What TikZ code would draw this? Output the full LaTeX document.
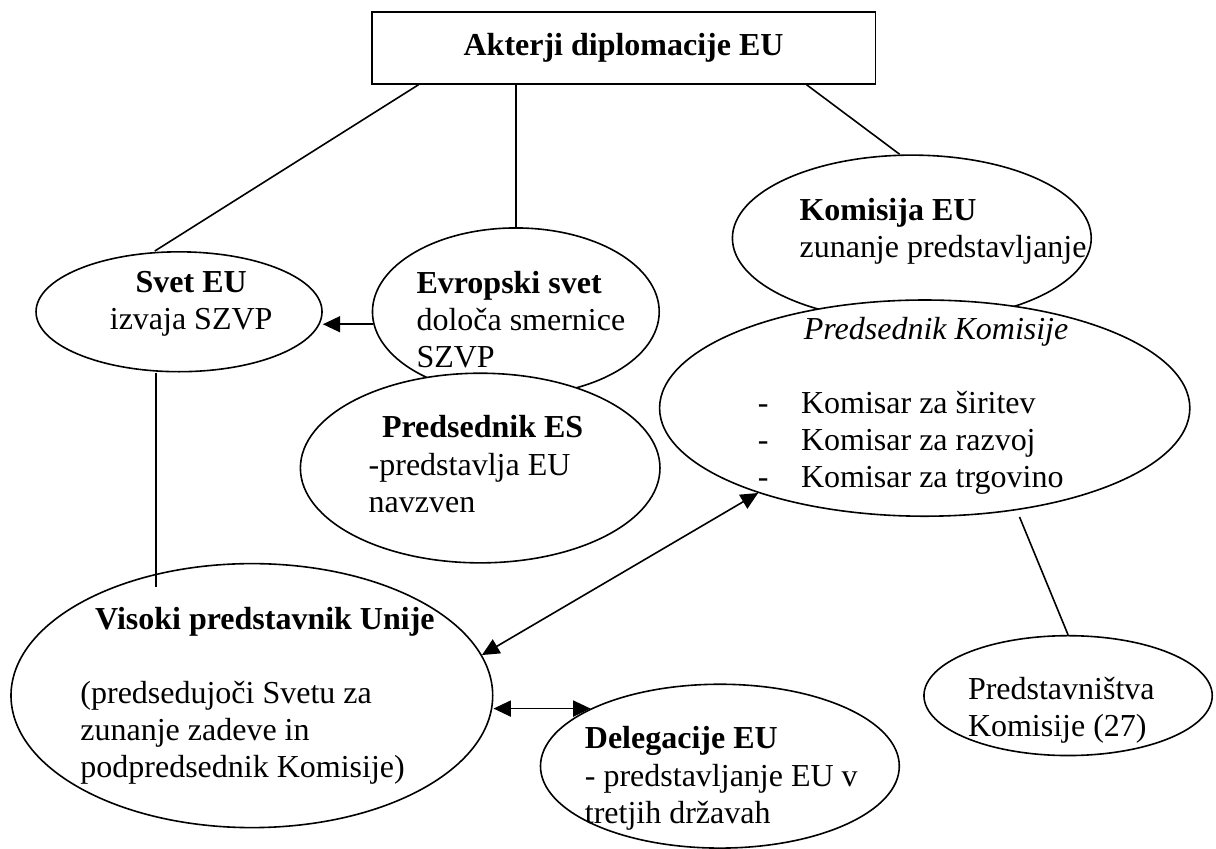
\documentclass[tikz,border=0pt]{standalone}
\usepackage{fontspec}
\setmainfont{Liberation Serif}
\usetikzlibrary{shapes.geometric,arrows.meta}
\newcommand{\alinea}{\makebox[0.57cm][l]{-}}

\begin{document}
\begin{tikzpicture}[font=\fontsize{12}{13.9}\selectfont,line width=0.6pt,
        blob/.style={shape=ellipse,draw=black,fill=white,inner sep=0pt},
        txt/.style={inner sep=0pt,align=left,anchor=north west},
        arr/.style={-{Triangle[length=6.5pt,width=6pt]}},
        darr/.style={{Triangle[length=6.5pt,width=6pt]}-{Triangle[length=6.5pt,width=6pt]}}]
        \useasboundingbox (0,0) rectangle (16.03,-11.18);

        \node[shape=rectangle,draw=black,minimum width=6.64cm,minimum height=0.95cm] (top) at (8.22,-0.63) {\textbf{Akterji diplomacije EU}};

        \node[blob,minimum width=3.77cm,minimum height=1.58cm] (svet) at (2.36,-4.11)  {};
        \node[blob,minimum width=3.78cm,minimum height=2.21cm] (evs)  at (6.80,-4.11)  {};
        \node[blob,minimum width=4.74cm,minimum height=2.50cm] (pes)  at (6.33,-6.17)  {};
        \node[blob,minimum width=4.73cm,minimum height=2.19cm] (kom)  at (12.02,-3.14) {};
        \node[blob,minimum width=6.99cm,minimum height=2.85cm] (pk)   at (12.19,-5.38) {};
        \node[blob,minimum width=6.35cm,minimum height=3.48cm] (vis)  at (3.32,-9.17)  {};
        \node[blob,minimum width=4.73cm,minimum height=2.16cm] (del)  at (9.49,-10.10) {};
        \node[blob,minimum width=3.80cm,minimum height=1.58cm] (pred) at (14.08,-9.17) {};

        \node[txt,align=center,anchor=north] (svet-t) at (2.52,-3.57) {\textbf{Svet EU}\\izvaja SZVP};
        \node[txt] (evs-t)  at (5.48,-3.57)  {\textbf{Evropski svet}\\določa smernice\\SZVP};
        \node[txt] (pes-t)  at (4.85,-5.47)  {\hspace*{5pt}\textbf{Predsednik ES}\\-predstavlja EU\\navzven};
        \node[txt] (kom-t)  at (10.53,-2.60) {\textbf{Komisija EU}\\zunanje predstavljanje};
        \node[inner sep=0pt,anchor=base] (pk-t) at (12.34,-4.47) {\textit{Predsednik Komisije}};
        \node[txt] (pk-l)   at (9.98,-5.15)  {\alinea Komisar za širitev\\\alinea Komisar za razvoj\\\alinea Komisar za trgovino};
        \node[txt] (vis-t)  at (1.05,-7.99)  {\hspace*{5.5pt}\textbf{Visoki predstavnik Unije}\\[13.9pt](predsedujoči Svetu za\\zunanje zadeve in\\podpredsednik Komisije)};
        \node[txt] (del-t)  at (7.70,-9.57)  {\textbf{Delegacije EU}\\- predstavljanje EU v\\tretjih državah};
        \node[txt] (pred-t) at (12.75,-8.92) {Predstavništva\\Komisije (27)};

        \path ([xshift=0.63cm]top.south west) edge ([xshift=-0.32cm]svet.north);
        \path (evs.north |- top.south) edge (evs.north);
        \path ([xshift=-0.92cm]top.south east) edge ([xshift=-0.16cm]kom.north);
        \path [arr] (evs.185) edge (evs.185 -| svet.east);
        \path ([xshift=-0.3cm]svet.south) edge ([xshift=-0.3cm,yshift=-0.32cm]svet.south |- vis.north);
        \path [darr] (vis.10) edge (pk.207);
        \path [darr] (del.156 -| vis.east) edge (del.156);
        \path ([xshift=1.25cm]pk.south) edge (pred.north);

\end{tikzpicture}
\end{document}
